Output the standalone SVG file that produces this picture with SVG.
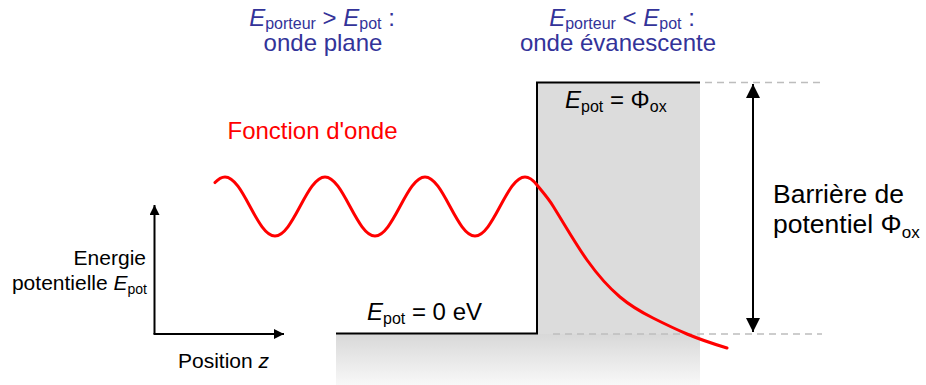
<svg xmlns="http://www.w3.org/2000/svg" width="926" height="385" viewBox="0 0 926 385">
<style>
text{font-family:"Liberation Sans",Arial,sans-serif;}
.blue{fill:#333399;font-size:24px;}
.blk{fill:#000;font-size:24px;}
.lbl{fill:#000;font-size:21px;}
.it{font-style:italic;}
.step{fill:none;stroke:#000;stroke-width:2;}
.dash{fill:none;stroke:#bdbdbd;stroke-width:1.5;stroke-dasharray:7 5;}
.axis{fill:none;stroke:#000;stroke-width:2;}
.wave{fill:none;stroke:#ff0000;stroke-width:3;stroke-linejoin:round;stroke-linecap:round;}
</style>
<defs>
<linearGradient id="gfloor" x1="0" y1="0" x2="0" y2="1">
<stop offset="0" stop-color="#d8d8d8"/>
<stop offset="1" stop-color="#f8f8f8"/>
</linearGradient>
<marker id="ah" viewBox="0 0 10 10" refX="10" refY="5" markerWidth="5" markerHeight="5" orient="auto-start-reverse" markerUnits="strokeWidth">
<path d="M0,0 L10,5 L0,10 z" fill="#000"/>
</marker>
<marker id="ah2" viewBox="0 0 10 10" refX="10" refY="5" markerWidth="7" markerHeight="7" orient="auto-start-reverse" markerUnits="strokeWidth">
<path d="M0,0 L10,5 L0,10 z" fill="#000"/>
</marker>
</defs>

<g id="regions">
<rect x="336" y="334" width="364" height="51" fill="url(#gfloor)"/>
<rect x="537" y="82" width="163" height="252" fill="#dcdcdc"/>
</g>

<g id="connectors">
<path class="step" d="M336,333.5 L537,333.5 L537,82.5 L700,82.5"/>
<line class="dash" x1="705" y1="82.5" x2="822" y2="82.5"/>
<line class="dash" x1="553" y1="334" x2="822" y2="334"/>
<line class="axis" x1="753" y1="84" x2="753" y2="332" marker-start="url(#ah2)" marker-end="url(#ah2)" stroke-width="1.5"/>
<line class="axis" x1="154.5" y1="334" x2="154.5" y2="205" marker-end="url(#ah)"/>
<line class="axis" x1="153.5" y1="334" x2="284" y2="334" marker-end="url(#ah)"/>
</g>

<g id="wave">
<path class="wave" d="M215,182.6 C218.3,179 221.7,177 225,177 C243.17,177 256.83,236 275,236 S306.83,177 325,177 S356.83,236 375,236 S406.83,177 425,177 S456.83,236 475,236 S506.83,177 525,177 C529,177 533,179.9 537,185 C542.3,191.8 547.7,197.5 553,206 C564.3,224.1 575.7,244.1 587,260 C598,275.4 609,287.65 620,297 C631,306.35 642,312.5 653,318 C664.3,323.7 675.7,329.2 687,334 C700.3,339.6 713.7,344 727,348"/>
</g>

<g id="title-left">
<text class="blue" x="322" y="26" text-anchor="middle"><tspan class="it">E</tspan><tspan font-size="16" dy="3">porteur</tspan><tspan dy="-3"> &gt; </tspan><tspan class="it">E</tspan><tspan font-size="16" dy="3">pot</tspan><tspan dy="-3"> :</tspan></text>
<text class="blue" x="323" y="51" text-anchor="middle">onde plane</text>
</g>

<g id="title-right">
<text class="blue" x="622" y="26" text-anchor="middle"><tspan class="it">E</tspan><tspan font-size="16" dy="3">porteur</tspan><tspan dy="-3"> &lt; </tspan><tspan class="it">E</tspan><tspan font-size="16" dy="3">pot</tspan><tspan dy="-3"> :</tspan></text>
<text class="blue" x="618" y="51" text-anchor="middle">onde évanescente</text>
</g>

<g id="label-wave">
<text x="312.5" y="139" text-anchor="middle" fill="#ff0000" font-size="24">Fonction d'onde</text>
</g>

<g id="label-barrier-top">
<text class="blk" x="565" y="108"><tspan class="it">E</tspan><tspan font-size="16" dy="4">pot</tspan><tspan dy="-4"> = Φ</tspan><tspan font-size="16" dy="4">ox</tspan></text>
</g>

<g id="label-floor">
<text class="blk" x="367" y="320"><tspan class="it">E</tspan><tspan font-size="16" dy="4">pot</tspan><tspan dy="-4"> = 0 eV</tspan></text>
</g>

<g id="label-barrier-height">
<text x="773" y="203" fill="#000" font-size="26.5">Barrière de</text>
<text x="773" y="233" fill="#000" font-size="26.5">potentiel Φ<tspan font-size="17" dy="5">ox</tspan></text>
</g>

<g id="axis-labels">
<text class="lbl" x="146" y="265" text-anchor="end">Energie</text>
<text class="lbl" x="147" y="290" text-anchor="end">potentielle <tspan class="it">E</tspan><tspan font-size="14" dy="4">pot</tspan></text>
<text class="lbl" x="178" y="368">Position <tspan class="it">z</tspan></text>
</g>
</svg>
